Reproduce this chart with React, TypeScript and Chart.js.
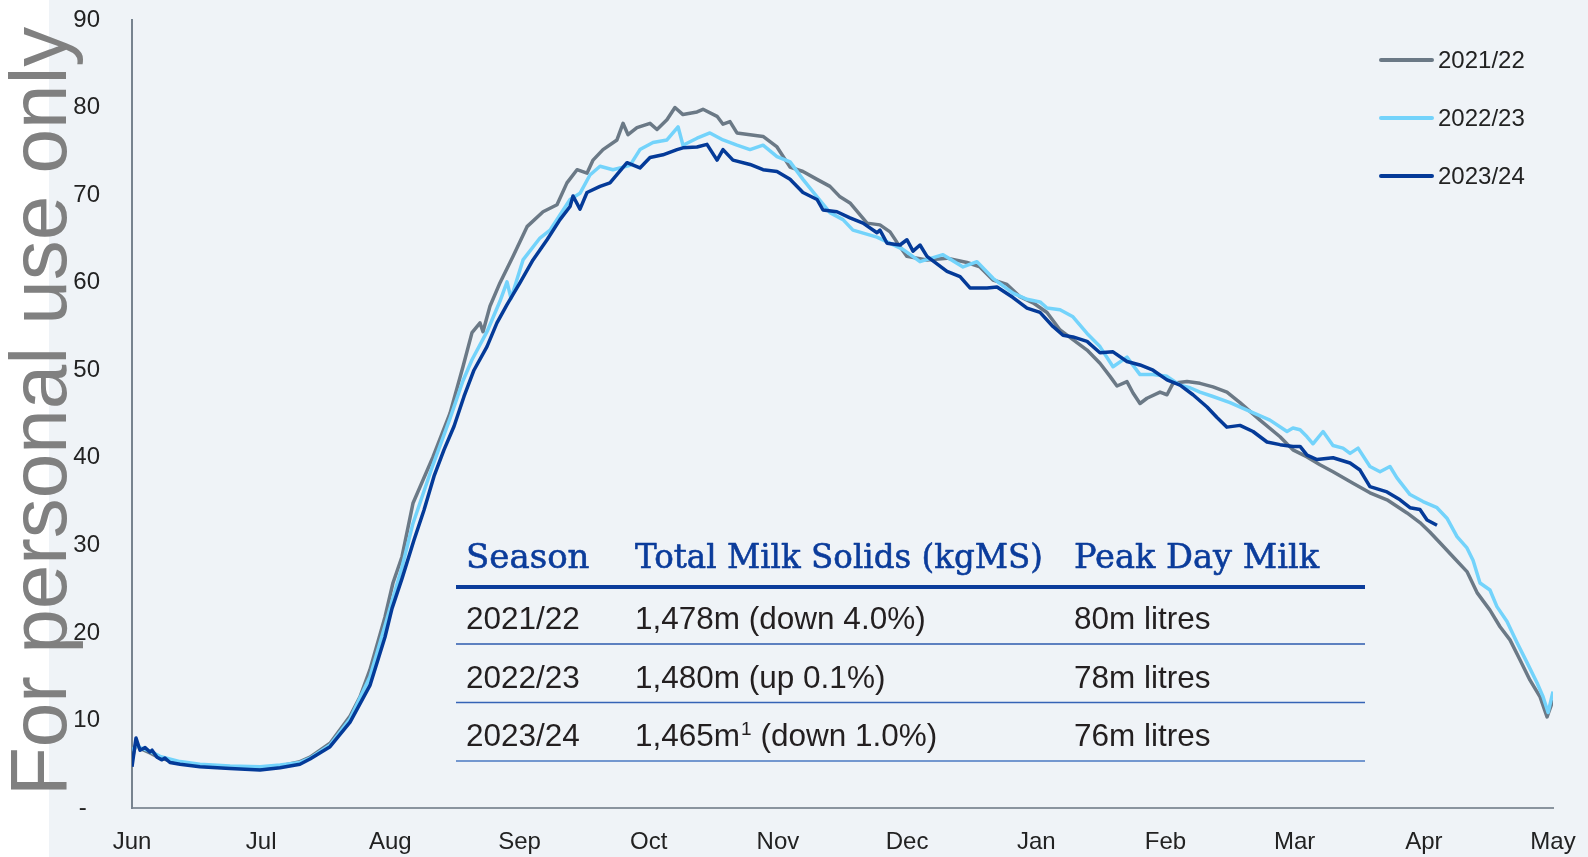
import React, { useEffect, useRef } from "react";
import { Chart, registerables } from "chart.js";

Chart.register(...registerables);

// x = position in months from 1 June (0 = Jun ... 11 = May), y = million litres per day
const MONTH_LABELS = ["Jun", "Jul", "Aug", "Sep", "Oct", "Nov", "Dec", "Jan", "Feb", "Mar", "Apr", "May"];

const SERIES_NAMES = ["2021/22", "2022/23", "2023/24"];
const SERIES_COLORS = ["#6b7986", "#73d3fb", "#043a98"];

const season2122: [number, number][] = [
  [0.0, 5.5], [0.031, 7.4], [0.062, 6.8], [0.139, 6.3], [0.217, 5.7], [0.372, 5.1], [0.526, 4.8],
  [0.759, 4.6], [0.991, 4.6], [1.146, 4.8], [1.3, 5.3], [1.378, 5.8], [1.533, 7.4], [1.688, 10.5],
  [1.765, 12.7], [1.842, 15.8], [1.958, 21.8], [2.02, 25.7], [2.09, 28.7], [2.175, 34.8], [2.33, 40.1],
  [2.462, 45.1], [2.562, 50.4], [2.632, 54.3], [2.694, 55.4], [2.717, 54.4], [2.771, 57.3], [2.849, 60.0],
  [2.949, 63.0], [3.058, 66.4], [3.182, 68.1], [3.29, 68.9], [3.367, 71.4], [3.445, 72.9], [3.522, 72.5],
  [3.569, 74.0], [3.646, 75.2], [3.754, 76.3], [3.801, 78.2], [3.84, 76.9], [3.909, 77.7], [4.01, 78.2],
  [4.064, 77.5], [4.141, 78.6], [4.203, 80.0], [4.265, 79.2], [4.374, 79.5], [4.42, 79.8], [4.529, 79.0],
  [4.575, 78.1], [4.629, 78.4], [4.683, 77.1], [4.784, 76.9], [4.885, 76.7], [4.993, 75.5], [5.094, 73.2],
  [5.194, 72.7], [5.303, 71.8], [5.403, 71.0], [5.481, 69.8], [5.558, 69.1], [5.69, 66.8], [5.79, 66.6],
  [5.868, 65.8], [5.922, 64.6], [5.999, 63.0], [6.154, 62.6], [6.309, 62.8], [6.464, 62.3], [6.564, 61.8],
  [6.665, 60.3], [6.773, 59.8], [6.874, 58.4], [6.975, 57.7], [7.083, 56.6], [7.184, 54.6], [7.284, 53.5],
  [7.393, 52.3], [7.493, 50.8], [7.571, 49.3], [7.625, 48.2], [7.702, 48.7], [7.749, 47.4], [7.803, 46.2],
  [7.857, 46.8], [7.958, 47.5], [8.012, 47.2], [8.058, 48.5], [8.167, 48.7], [8.267, 48.5], [8.368, 48.1],
  [8.476, 47.5], [8.577, 46.3], [8.732, 44.3], [8.887, 42.4], [8.987, 40.9], [9.096, 40.1], [9.196, 39.2],
  [9.297, 38.4], [9.452, 37.1], [9.583, 36.0], [9.715, 35.2], [9.87, 33.7], [9.97, 32.6], [10.048, 31.5],
  [10.125, 30.3], [10.226, 28.7], [10.334, 27.0], [10.412, 24.6], [10.512, 22.6], [10.59, 20.7],
  [10.667, 19.2], [10.745, 16.9], [10.822, 14.6], [10.9, 12.7], [10.954, 10.4], [11.0, 12.3],
];

const season2223: [number, number][] = [
  [0.0, 6.5], [0.031, 7.2], [0.062, 6.9], [0.139, 6.5], [0.217, 5.9], [0.372, 5.3], [0.526, 5.0],
  [0.759, 4.8], [0.991, 4.7], [1.146, 4.9], [1.3, 5.2], [1.378, 5.7], [1.533, 7.2], [1.688, 10.2],
  [1.842, 15.0], [1.958, 20.8], [2.02, 24.0], [2.09, 27.5], [2.175, 32.5], [2.33, 39.2], [2.462, 44.5],
  [2.562, 48.8], [2.632, 51.2], [2.748, 54.4], [2.849, 57.9], [2.903, 60.1], [2.934, 58.2], [3.027, 62.6],
  [3.158, 65.1], [3.236, 66.0], [3.391, 69.5], [3.468, 70.2], [3.545, 72.3], [3.623, 73.3], [3.723, 72.9],
  [3.855, 73.4], [3.932, 75.2], [4.033, 76.0], [4.141, 76.3], [4.227, 77.8], [4.265, 75.7], [4.374, 76.5],
  [4.474, 77.1], [4.575, 76.3], [4.683, 75.7], [4.784, 75.2], [4.885, 75.7], [4.993, 74.4], [5.094, 73.8],
  [5.194, 71.8], [5.303, 69.8], [5.403, 68.0], [5.504, 67.2], [5.581, 66.0], [5.767, 65.2], [5.968, 63.8],
  [6.1, 62.4], [6.278, 63.2], [6.433, 61.8], [6.541, 62.4], [6.665, 60.5], [6.82, 58.8], [6.928, 58.1],
  [7.029, 57.8], [7.083, 57.1], [7.184, 56.9], [7.284, 56.1], [7.393, 54.2], [7.493, 52.7], [7.594, 50.4],
  [7.702, 51.5], [7.803, 49.5], [7.904, 49.5], [8.012, 49.3], [8.113, 48.3], [8.19, 48.0], [8.267, 47.5],
  [8.368, 47.0], [8.5, 46.3], [8.654, 45.3], [8.809, 44.3], [8.941, 43.0], [8.987, 43.4], [9.042, 43.2],
  [9.096, 42.4], [9.142, 41.6], [9.22, 43.0], [9.297, 41.4], [9.374, 41.1], [9.429, 40.5], [9.491, 41.1],
  [9.583, 39.0], [9.661, 38.4], [9.738, 39.0], [9.792, 37.7], [9.893, 35.8], [9.994, 35.0], [10.102, 34.3],
  [10.179, 33.1], [10.257, 31.0], [10.334, 29.7], [10.381, 28.3], [10.435, 25.7], [10.512, 24.9],
  [10.566, 23.0], [10.644, 21.3], [10.721, 18.9], [10.799, 16.6], [10.876, 14.3], [10.923, 12.7],
  [10.962, 10.9], [11.0, 13.3],
];

const season2324: [number, number][] = [
  [0.0, 4.7], [0.031, 8.0], [0.062, 6.6], [0.101, 6.9], [0.139, 6.4], [0.155, 6.6], [0.194, 5.8],
  [0.232, 5.5], [0.255, 5.7], [0.294, 5.2], [0.372, 5.0], [0.526, 4.7], [0.759, 4.5], [0.991, 4.35],
  [1.146, 4.6], [1.3, 5.0], [1.378, 5.6], [1.533, 7.0], [1.688, 9.8], [1.842, 14.0], [1.958, 19.5],
  [2.013, 22.8], [2.09, 26.2], [2.183, 30.6], [2.26, 34.0], [2.338, 37.9], [2.415, 40.9], [2.493, 43.6],
  [2.57, 47.0], [2.647, 50.0], [2.748, 52.7], [2.825, 55.4], [2.903, 57.5], [3.004, 60.0], [3.104, 62.6],
  [3.213, 64.9], [3.313, 67.2], [3.391, 68.7], [3.414, 69.9], [3.468, 68.4], [3.522, 70.3], [3.623, 71.0],
  [3.7, 71.4], [3.832, 73.7], [3.932, 73.1], [4.01, 74.3], [4.11, 74.6], [4.219, 75.2], [4.265, 75.4],
  [4.374, 75.5], [4.451, 75.8], [4.529, 74.0], [4.575, 75.2], [4.652, 74.0], [4.784, 73.5], [4.885, 72.9],
  [4.993, 72.7], [5.094, 71.8], [5.194, 70.3], [5.303, 69.5], [5.349, 68.3], [5.457, 68.1], [5.558, 67.4],
  [5.659, 66.8], [5.767, 65.7], [5.79, 66.0], [5.845, 64.5], [5.945, 64.3], [5.999, 64.9], [6.046, 63.6],
  [6.1, 64.3], [6.154, 63.0], [6.309, 61.3], [6.41, 60.7], [6.487, 59.4], [6.619, 59.4], [6.696, 59.5],
  [6.82, 58.3], [6.928, 57.1], [7.029, 56.6], [7.129, 55.0], [7.207, 54.0], [7.284, 53.8], [7.393, 53.3],
  [7.493, 52.0], [7.594, 52.1], [7.702, 51.0], [7.803, 50.6], [7.904, 50.0], [8.012, 48.9], [8.113, 48.3],
  [8.213, 47.2], [8.322, 45.8], [8.399, 44.6], [8.476, 43.5], [8.577, 43.7], [8.678, 43.0], [8.786, 41.8],
  [8.887, 41.5], [8.987, 41.3], [9.042, 41.3], [9.096, 40.3], [9.173, 39.8], [9.297, 40.0], [9.429, 39.4],
  [9.506, 38.6], [9.583, 36.7], [9.715, 36.1], [9.816, 35.2], [9.893, 34.3], [9.97, 34.1], [10.025, 32.9],
  [10.102, 32.3],
];

// Summary table
const TABLE_HEADERS = ["Season", "Total Milk Solids (kgMS)", "Peak Day Milk"];
const TABLE_SEASONS = ["2021/22", "2022/23", "2023/24"];
const TABLE_TOTALS = ["1,478m", "1,480m", "1,465m"];
const TABLE_TOTAL_NOTES = ["", "", "1"];
const TABLE_CHANGES = [" (down 4.0%)", " (up 0.1%)", " (down 1.0%)"];
const TABLE_PEAKS = ["80m litres", "78m litres", "76m litres"];

const WATERMARK = "For personal use only";

const SANS = "'Liberation Sans', Arial, sans-serif";
const SERIF = "'DejaVu Serif', serif";

const backgroundPlugin = {
  id: "bgPanel",
  beforeDraw(chart: any) {
    const { ctx, width, height } = chart;
    ctx.save();
    ctx.fillStyle = "#ffffff";
    ctx.fillRect(0, 0, width, height);
    ctx.fillStyle = "#eff3f7";
    ctx.fillRect(49, 0, width - 49, height);
    ctx.restore();
  },
};

const overlayPlugin = {
  id: "overlay",
  afterDraw(chart: any) {
    const { ctx } = chart;
    ctx.save();

    // Legend
    ctx.font = `24px ${SANS}`;
    ctx.textBaseline = "middle";
    ctx.textAlign = "left";
    SERIES_NAMES.forEach((name, i) => {
      const y = 60 + i * 58;
      ctx.strokeStyle = SERIES_COLORS[i];
      ctx.lineWidth = 4;
      ctx.lineCap = "round";
      ctx.beginPath();
      ctx.moveTo(1381, y);
      ctx.lineTo(1432, y);
      ctx.stroke();
      ctx.fillStyle = "#222222";
      ctx.fillText(name, 1438, y + 1);
    });

    // Table
    const colX = [466, 635, 1074];
    const headerWidths = [124, 408, 245];
    ctx.textBaseline = "alphabetic";
    ctx.fillStyle = "#0b3c9b";
    ctx.strokeStyle = "#0b3c9b";
    ctx.lineWidth = 0.6;
    ctx.lineJoin = "round";
    ctx.font = `34px ${SERIF}`;
    TABLE_HEADERS.forEach((h, i) => {
      ctx.fillText(h, colX[i], 568, headerWidths[i]);
      ctx.strokeText(h, colX[i], 568, headerWidths[i]);
    });

    ctx.lineCap = "butt";
    ctx.strokeStyle = "#0b3c9b";
    ctx.lineWidth = 4;
    ctx.beginPath();
    ctx.moveTo(456, 587);
    ctx.lineTo(1365, 587);
    ctx.stroke();

    const rowBase = [629, 687.5, 746];
    const lineY = [644, 702.5, 761];
    const lineColors = ["#2c5aae", "#3563b6", "#4a78c2"];
    TABLE_SEASONS.forEach((s, r) => {
      ctx.fillStyle = "#231f20";
      ctx.font = `31.5px ${SANS}`;
      ctx.fillText(s, colX[0], rowBase[r]);
      ctx.fillText(TABLE_TOTALS[r], colX[1], rowBase[r]);
      let x = colX[1] + ctx.measureText(TABLE_TOTALS[r]).width;
      if (TABLE_TOTAL_NOTES[r]) {
        ctx.font = `19px ${SANS}`;
        ctx.fillText(TABLE_TOTAL_NOTES[r], x + 1, rowBase[r] - 11);
        x += ctx.measureText(TABLE_TOTAL_NOTES[r]).width + 1;
        ctx.font = `31.5px ${SANS}`;
      }
      ctx.fillText(TABLE_CHANGES[r], x, rowBase[r]);
      ctx.fillText(TABLE_PEAKS[r], colX[2], rowBase[r]);

      ctx.strokeStyle = lineColors[r];
      ctx.lineWidth = 1.5;
      ctx.beginPath();
      ctx.moveTo(456, lineY[r]);
      ctx.lineTo(1365, lineY[r]);
      ctx.stroke();
    });

    // Watermark
    ctx.translate(66, 796);
    ctx.rotate(-Math.PI / 2);
    ctx.font = `80px ${SANS}`;
    ctx.fillStyle = "#808080";
    ctx.textAlign = "left";
    ctx.textBaseline = "alphabetic";
    ctx.fillText(WATERMARK, 0, 0);

    ctx.restore();
  },
};

export default function App() {
  const canvasRef = useRef<HTMLCanvasElement | null>(null);

  useEffect(() => {
    if (!canvasRef.current) return;
    const seriesData = [season2122, season2223, season2324];
    const chart = new Chart(canvasRef.current, {
      type: "line",
      data: {
        datasets: SERIES_NAMES.map((name, i) => ({
          label: name,
          data: seriesData[i].map(([x, y]) => ({ x, y })),
          borderColor: SERIES_COLORS[i],
          backgroundColor: SERIES_COLORS[i],
          borderWidth: 3.5,
          pointRadius: 0,
          pointHoverRadius: 0,
          tension: 0,
          borderJoinStyle: "round",
          order: 3 - i,
        })),
      },
      options: {
        responsive: false,
        animation: false,
        devicePixelRatio: 1,
        layout: { padding: { left: 0, right: 35, top: 20, bottom: 0 } },
        plugins: {
          legend: { display: false },
          tooltip: { enabled: false },
        },
        scales: {
          x: {
            type: "linear",
            min: 0,
            max: 11,
            grid: { display: false, drawTicks: false },
            border: { display: true, color: "#8a949e", width: 2 },
            ticks: {
              stepSize: 1,
              autoSkip: false,
              maxRotation: 0,
              padding: 20,
              color: "#222222",
              font: { family: SANS, size: 24 },
              callback: (v: any) => MONTH_LABELS[Math.round(Number(v))] ?? "",
            },
            afterFit: (scale: any) => {
              scale.height = 49;
              scale.paddingLeft = 0;
              scale.paddingRight = 0;
            },
          },
          y: {
            type: "linear",
            min: 0,
            max: 90,
            grid: { display: false, drawTicks: false },
            border: { display: true, color: "#77838f", width: 2 },
            ticks: {
              stepSize: 10,
              padding: 32,
              color: "#222222",
              font: { family: SANS, size: 24 },
              callback: (v: any) => (Number(v) === 0 ? "-  " : String(v)),
            },
            afterFit: (scale: any) => {
              scale.width = 132;
              scale.paddingTop = 0;
              scale.paddingBottom = 0;
            },
          },
        },
      },
      plugins: [backgroundPlugin, overlayPlugin],
    } as any);
    return () => chart.destroy();
  }, []);

  return (
    <div style={{ position: "fixed", left: 0, top: 0, width: 1588, height: 857, background: "#ffffff" }}>
      <canvas ref={canvasRef} width={1588} height={857} style={{ width: 1588, height: 857, display: "block" }} />
    </div>
  );
}
